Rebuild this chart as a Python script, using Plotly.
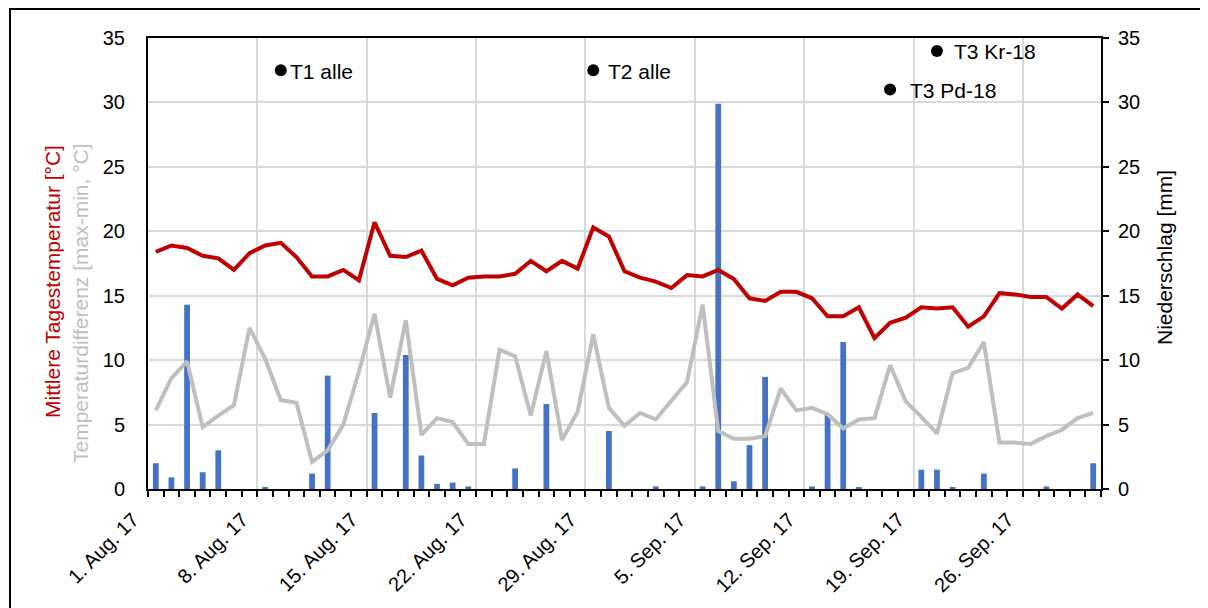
import pandas as pd
import plotly.graph_objects as go

# ---------------- data ----------------
start_date = "2017-08-01"
n_days = 61
dates = pd.date_range(start_date, periods=n_days, freq="D") + pd.Timedelta(hours=12)

mean_temp = [18.4, 18.9, 18.7, 18.1, 17.9, 17.0, 18.3, 18.9, 19.1, 18.0,
             16.5, 16.5, 17.0, 16.2, 20.7, 18.1, 18.0, 18.5, 16.3, 15.8,
             16.4, 16.5, 16.5, 16.7, 17.7, 16.9, 17.7, 17.1, 20.3, 19.6,
             16.9, 16.4, 16.1, 15.6, 16.6, 16.5, 17.0, 16.3, 14.8, 14.6,
             15.3, 15.3, 14.8, 13.4, 13.4, 14.1, 11.7, 12.9, 13.3, 14.1,
             14.0, 14.1, 12.6, 13.4, 15.2, 15.1, 14.9, 14.9, 14.0, 15.1,
             14.2]

temp_diff = [6.1, 8.6, 9.9, 4.8, 5.7, 6.5, 12.5, 10.1, 6.9, 6.7,
             2.1, 3.0, 5.0, 9.1, 13.6, 7.1, 13.1, 4.2, 5.5, 5.2,
             3.5, 3.5, 10.8, 10.3, 5.7, 10.7, 3.8, 6.0, 12.0, 6.3,
             4.9, 5.9, 5.4, 6.8, 8.3, 14.3, 4.5, 3.9, 3.9, 4.1,
             7.8, 6.1, 6.3, 5.8, 4.7, 5.4, 5.5, 9.6, 6.8, 5.6,
             4.3, 9.0, 9.4, 11.4, 3.6, 3.6, 3.5, 4.1, 4.6, 5.5,
             5.9]

precip = [2.0, 0.9, 14.3, 1.3, 3.0, 0, 0, 0.1, 0, 0,
          1.2, 8.8, 0, 0, 5.9, 0, 10.4, 2.6, 0.4, 0.5,
          0.2, 0, 0, 1.6, 0, 6.6, 0, 0, 0, 4.5,
          0, 0, 0.2, 0, 0, 0.2, 29.9, 0.6, 3.4, 8.7,
          0, 0, 0.2, 5.8, 11.4, 0.1, 0, 0, 0, 1.5,
          1.5, 0.1, 0, 1.2, 0, 0, 0, 0.2, 0, 0,
          2.0]

tick_dates = ["2017-08-01", "2017-08-08", "2017-08-15", "2017-08-22", "2017-08-29",
              "2017-09-05", "2017-09-12", "2017-09-19", "2017-09-26"]
tick_labels = ["1. Aug. 17", "8. Aug. 17", "15. Aug. 17", "22. Aug. 17", "29. Aug. 17",
               "5. Sep. 17", "12. Sep. 17", "19. Sep. 17", "26. Sep. 17"]
day_ticks = pd.date_range("2017-08-01", "2017-10-01", freq="D")

marker_labels = ["T1 alle", "T2 alle", "T3 Pd-18", "T3 Kr-18"]
marker_dates = ["2017-08-09 12:00", "2017-08-29 12:00", "2017-09-17 12:00", "2017-09-20 12:00"]
marker_values = [32.5, 32.5, 31.0, 34.0]

# label placement (style only, pixels to the right of each marker)
label_gaps = [7, 13, 18, 15]

# ---------------- figure ----------------
FONT = "Liberation Sans, Arial, sans-serif"
DAY_MS = 86400000
OFF = 8  # page body margin

# plot area in reference-pixel coordinates
PX0, PX1, PY0, PY1 = 148, 1101, 38, 489
W, H = 1200, 600
L, T = PX0 - OFF, PY0 - OFF
R = W - (PX1 - OFF)
B = H - (PY1 - OFF)
pw, ph = PX1 - PX0, PY1 - PY0


def px_x(px):
    return (px - PX0) / pw


def px_y(py):
    return (PY1 - py) / ph


fig = go.Figure()
fig.add_trace(go.Bar(x=dates, y=precip, yaxis="y", marker_color="#4472C4",
                     marker_line_width=0, width=0.37 * DAY_MS, name="Niederschlag"))
fig.add_trace(go.Scatter(x=dates, y=temp_diff, yaxis="y2", mode="lines",
                         line=dict(color="#BFBFBF", width=4), name="Temperaturdifferenz"))
fig.add_trace(go.Scatter(x=dates, y=mean_temp, yaxis="y2", mode="lines",
                         line=dict(color="#C00000", width=4), name="Mittlere Tagestemperatur"))
fig.add_trace(go.Scatter(x=marker_dates, y=marker_values, yaxis="y2", mode="markers",
                         marker=dict(color="black", size=12), name="Termine"))

annotations = [
    dict(text="Mittlere Tagestemperatur [°C]", xref="paper", yref="paper",
         x=px_x(52), y=px_y(282), textangle=-90, showarrow=False,
         xanchor="center", yanchor="middle",
         font=dict(size=21, color="#C00000", family=FONT)),
    dict(text="Temperaturdifferenz [max-min, °C]", xref="paper", yref="paper",
         x=px_x(80), y=px_y(303), textangle=-90, showarrow=False,
         xanchor="center", yanchor="middle",
         font=dict(size=21, color="#BFBFBF", family=FONT)),
    dict(text="Niederschlag [mm]", xref="paper", yref="paper",
         x=px_x(1164), y=px_y(258), textangle=-90, showarrow=False,
         xanchor="center", yanchor="middle",
         font=dict(size=21, color="black", family=FONT)),
]
for lab, d, v, g in zip(marker_labels, marker_dates, marker_values, label_gaps):
    annotations.append(dict(text=lab, x=d, y=v, xref="x", yref="y2", showarrow=False,
                            xanchor="left", yanchor="middle", xshift=g, yshift=-1,
                            font=dict(size=21, color="black", family=FONT)))

fig.update_layout(
    width=W, height=H,
    margin=dict(l=L, r=R, t=T, b=B, pad=0),
    paper_bgcolor="white", plot_bgcolor="white",
    showlegend=False,
    font=dict(family=FONT, color="black", size=20),
    xaxis=dict(
        type="date", range=["2017-08-01", "2017-10-01"],
        tickmode="array", tickvals=tick_dates, ticktext=tick_labels,
        tickangle=-45, tickfont=dict(size=20),
        ticklabelshift=-15, ticklabelstandoff=3,
        ticks="outside", ticklen=6, tickwidth=2, tickcolor="black",
        showline=True, linecolor="black", linewidth=2, mirror=True,
        showgrid=True, gridcolor="#D9D9D9", gridwidth=1.5, zeroline=False,
        minor=dict(tickmode="array", tickvals=list(day_ticks),
                   ticks="outside", ticklen=6, tickwidth=1.5, tickcolor="black",
                   showgrid=False),
    ),
    yaxis=dict(
        side="right", range=[0, 35], dtick=5, tickfont=dict(size=20),
        ticks="outside", ticklen=6, tickwidth=1.5, tickcolor="black",
        ticklabelstandoff=5,
        showline=True, linecolor="black", linewidth=2,
        showgrid=True, gridcolor="#D9D9D9", gridwidth=1.5, zeroline=False,
    ),
    yaxis2=dict(
        overlaying="y", side="left", range=[0, 35], dtick=5, tickfont=dict(size=20),
        ticks="", ticklabelstandoff=17,
        showline=True, linecolor="black", linewidth=2,
        showgrid=False, zeroline=False,
    ),
    annotations=annotations,
    shapes=[
        dict(type="rect", xref="paper", yref="paper",
             x0=px_x(10), y0=px_y(640), x1=px_x(1240), y1=px_y(9),
             line=dict(color="black", width=2), fillcolor="rgba(0,0,0,0)", layer="above"),
    ],
)

fig.write_html("out.html")
